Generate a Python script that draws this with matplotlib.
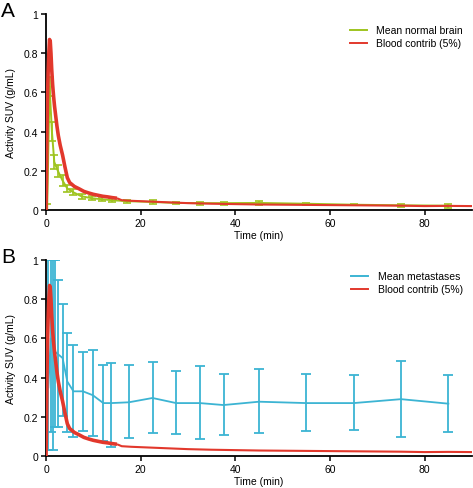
import matplotlib
matplotlib.use("Agg")
import matplotlib.pyplot as plt
from matplotlib.lines import Line2D

plt.rcParams['font.family'] = ['Liberation Sans', 'DejaVu Sans']

# blood contribution (5%), same curve in both panels
blood_t = [0, 0.1, 0.2, 0.3, 0.45, 0.6, 0.75, 0.9, 1.05, 1.2, 1.4, 1.6, 1.8, 2.0, 2.3, 2.6,
           3.0, 3.5, 4.0, 4.5, 5.0, 5.5, 6, 7, 8, 9, 10, 11, 12, 13, 14, 15, 16, 18, 20,
           25, 30, 35, 40, 45, 50, 55, 60, 65, 70, 75, 80, 85, 90]
blood_v = [0, 0.15, 0.4, 0.55, 0.7, 0.8, 0.87, 0.86, 0.8, 0.72, 0.64, 0.58, 0.53, 0.49, 0.43, 0.38,
           0.33, 0.28, 0.22, 0.165, 0.14, 0.13, 0.12, 0.108, 0.095, 0.087, 0.08, 0.075, 0.07, 0.067, 0.063, 0.06, 0.05, 0.047, 0.045,
           0.04, 0.035, 0.032, 0.03, 0.028, 0.027, 0.026, 0.025, 0.024, 0.023, 0.022, 0.02, 0.021, 0.02]
dense_end = 15  # dense noisy sampling before this time

# panel A: normal brain
brain_t = [0.25, 0.75, 1.25, 1.75, 2.5, 3.5, 4.5, 5.8, 7.5, 9.7, 11.8, 13.9, 17.2,
           22.5, 27.5, 32.5, 37.5, 45, 55, 65, 75, 85]
brain_mean = [0.01, 0.63, 0.40, 0.245, 0.20, 0.15, 0.11, 0.09, 0.07, 0.06, 0.055, 0.05, 0.045,
              0.041, 0.036, 0.035, 0.035, 0.036, 0.032, 0.027, 0.024, 0.022]
brain_err = [0.02, 0.05, 0.05, 0.035, 0.03, 0.03, 0.02, 0.015, 0.012, 0.01, 0.01, 0.01, 0.008,
             0.01, 0.007, 0.008, 0.008, 0.009, 0.004, 0.003, 0.008, 0.01]

# panel B: metastases
met_t = [0.5, 1.0, 1.5, 2.0, 2.5, 3.5, 4.5, 5.8, 7.8, 9.9, 12.1, 13.8, 17.5,
         22.5, 27.5, 32.5, 37.5, 45, 55, 65, 75, 85]
met_mean = [0.35, 0.6, 0.58, 0.53, 0.52, 0.50, 0.38, 0.33, 0.33, 0.31, 0.27, 0.27, 0.274,
            0.296, 0.27, 0.27, 0.26, 0.277, 0.27, 0.27, 0.29, 0.267]
met_upper = [1.0, 1.0, 1.0, 1.0, 0.90, 0.775, 0.63, 0.566, 0.53, 0.54, 0.464, 0.473, 0.464,
             0.478, 0.435, 0.461, 0.418, 0.444, 0.418, 0.413, 0.485, 0.413]
met_lower = [0.03, 0.12, 0.03, 0.15, 0.146, 0.206, 0.12, 0.095, 0.13, 0.10, 0.078, 0.044, 0.09,
             0.117, 0.11, 0.088, 0.108, 0.116, 0.128, 0.133, 0.099, 0.124]

green = '#9ec41f'
red = '#e2382c'
cyan = '#3cb4d3'

fig = plt.figure(figsize=(4.73, 4.89), dpi=100)
axA = fig.add_axes([46/473, 1-211/489, 426/473, 196/489])
axB = fig.add_axes([46/473, 1-457/489, 426/473, 196/489])


def draw_blood(ax):
   k = max(i for i, t in enumerate(blood_t) if t <= dense_end)
   ax.plot(blood_t[:k+1], blood_v[:k+1], color=red, lw=2.6, solid_capstyle='butt', zorder=3)
   ax.plot(blood_t[k:], blood_v[k:], color=red, lw=1.5, solid_capstyle='butt', zorder=3)


# A
axA.errorbar(brain_t, brain_mean, yerr=brain_err, color=green, lw=1.4, elinewidth=1.2,
             capsize=3, capthick=1.2, zorder=2)
draw_blood(axA)

# B
err_lo = [m - lo for m, lo in zip(met_mean, met_lower)]
err_hi = [hi - m for m, hi in zip(met_mean, met_upper)]
axB.errorbar(met_t, met_mean, yerr=[err_lo, err_hi], color=cyan, lw=1.3, elinewidth=1.3,
             capsize=3.5, capthick=1.3, zorder=2)
draw_blood(axB)

legends = [(green, 'Mean normal brain'), (cyan, 'Mean metastases')]

for ax, letter, (col, name) in zip([axA, axB], ['A', 'B'], legends):
   ax.set_xlim(0, 90)
   ax.set_ylim(0, 1)
   ax.set_xticks([0, 20, 40, 60, 80])
   ax.set_yticks([0, 0.2, 0.4, 0.6, 0.8, 1])
   ax.set_yticklabels(['0', '0.2', '0.4', '0.6', '0.8', '1'])
   ax.spines['top'].set_visible(False)
   ax.spines['right'].set_visible(False)
   ax.spines['left'].set_linewidth(1.3)
   ax.spines['bottom'].set_linewidth(1.3)
   ax.tick_params(labelsize=7.5, width=1.1, length=3.5, pad=2)
   ax.set_xlabel('Time (min)', fontsize=7.5, labelpad=2)
   ax.set_ylabel('Activity SUV (g/mL)', fontsize=7.5, labelpad=6)
   handles = [Line2D([], [], color=col, lw=1.4), Line2D([], [], color=red, lw=1.4)]
   ax.legend(handles, [name, 'Blood contrib (5%)'], loc='upper right', bbox_to_anchor=(1.0, 0.99),
             frameon=False, fontsize=7.5, handlelength=1.6, handletextpad=0.9, labelspacing=0.3)
   fig.text(0.002, ax.get_position().y1 + 0.008, letter, fontsize=15, va='center', ha='left')

plt.savefig('out.png', dpi=100)
